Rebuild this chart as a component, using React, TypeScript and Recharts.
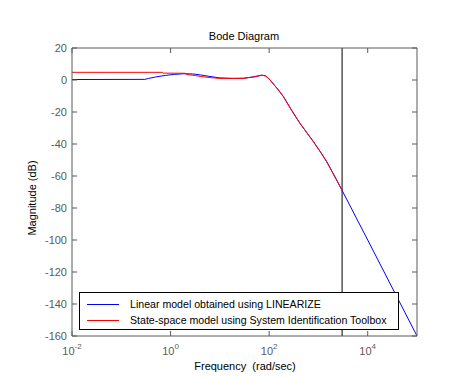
import { Legend, Line, LineChart, ReferenceLine, XAxis, YAxis } from "recharts";

// frequency (rad/sec) and magnitude (dB)
const linearizeFreq = [
  0.01, 0.3, 0.36, 0.5, 0.8, 1.2, 1.8, 2.8, 4, 6, 10, 18, 30, 45, 62, 72, 85, 105, 130, 155, 195, 280,
  420, 600, 790, 1100, 1470, 2340, 3020, 10000, 100000,
];
const linearizeMag = [
  0.3, 0.4, 1.0, 1.9, 2.9, 3.5, 3.9, 3.8, 3.2, 2.3, 1.3, 1.0, 1.1, 1.8, 2.7, 3.0, 2.5, 0, -3.5, -6.3, -10.4,
  -18.5, -27, -33.5, -38.5, -45, -51, -62.5, -69, -100, -160,
];

const sysidFreq = [
  0.01, 0.68, 0.7, 2.0, 2.1, 3.2, 4.0, 6.3, 10, 30, 40, 55, 70, 85, 105, 130, 155, 195, 280, 420, 600, 790,
  1100, 1470, 2340, 3020,
];
const sysidMag = [
  4.8, 4.8, 4.3, 4.2, 3.4, 2.8, 2.2, 1.5, 1.0, 1.0, 1.6, 2.1, 3.0, 2.6, 0, -3.6, -6.3, -10.4, -18.5, -27,
  -33.5, -38.5, -45, -51, -62.5, -69,
];

const nyquistFreq = 3020;
const xTicks = [0.01, 1, 100, 10000];
const yTicks = [-160, -140, -120, -100, -80, -60, -40, -20, 0, 20];

const linearizeData = linearizeFreq.map((w, i) => ({ w, db: linearizeMag[i] }));
const sysidData = sysidFreq.map((w, i) => ({ w, db: sysidMag[i] }));

const AXIS = "#5a5a5a";
const FONT = "'Liberation Sans', Arial, sans-serif";

function BottomTick({ x, y, payload }: any) {
  const exp = Math.round(Math.log10(payload.value));
  return (
    <g>
      <line x1={x} x2={x} y1={y} y2={y - 5} stroke={AXIS} />
      <text x={x} y={y + 19} textAnchor="middle" fill={AXIS} fontSize={11} fontFamily={FONT}>
        10
        <tspan dy={-6} fontSize={8}>
          {exp}
        </tspan>
      </text>
    </g>
  );
}

function TopTick({ x, y }: any) {
  return <line x1={x} x2={x} y1={y} y2={y + 5} stroke={AXIS} />;
}

function LeftTick({ x, y, payload }: any) {
  return (
    <g>
      <line x1={x} x2={x + 5} y1={y} y2={y} stroke={AXIS} />
      <text x={x - 5} y={y} dy={4} textAnchor="end" fill={AXIS} fontSize={11} fontFamily={FONT}>
        {payload.value}
      </text>
    </g>
  );
}

function RightTick({ x, y }: any) {
  return <line x1={x} x2={x - 5} y1={y} y2={y} stroke={AXIS} />;
}

function LegendBox({ payload }: any) {
  return (
    <div
      style={{
        border: "1px solid #000",
        background: "#fff",
        width: 320,
        height: 38,
        boxSizing: "border-box",
        padding: "3px 0 0 7px",
        fontFamily: FONT,
        fontSize: 10.6,
        color: "#000",
        whiteSpace: "nowrap",
      }}
    >
      {(payload ?? []).map((item: any) => (
        <div key={item.value} style={{ display: "flex", alignItems: "center", height: 16 }}>
          <span style={{ display: "inline-block", width: 32, height: 1, background: item.color, marginRight: 11 }} />
          <span>{item.value}</span>
        </div>
      ))}
    </div>
  );
}

export default function App() {
  return (
    <div style={{ position: "absolute", left: 0, top: 0, width: 461, height: 377, background: "#fff" }}>
      <LineChart width={461} height={377} margin={{ top: 47, right: 43, bottom: 21, left: 32 }}>
        <XAxis
          dataKey="w"
          type="number"
          scale="log"
          domain={[0.01, 100000]}
          ticks={xTicks}
          allowDataOverflow
          height={20}
          tickSize={0}
          tickMargin={0}
          tickLine={false}
          axisLine={{ stroke: AXIS }}
          tick={<BottomTick />}
        />
        <XAxis
          xAxisId="top"
          orientation="top"
          dataKey="w"
          type="number"
          scale="log"
          domain={[0.01, 100000]}
          ticks={xTicks}
          allowDataOverflow
          height={1}
          tickSize={0}
          tickMargin={0}
          tickLine={false}
          axisLine={{ stroke: AXIS }}
          tick={<TopTick />}
        />
        <YAxis
          type="number"
          domain={[-160, 20]}
          ticks={yTicks}
          allowDataOverflow
          width={40}
          tickSize={0}
          tickMargin={0}
          tickLine={false}
          axisLine={{ stroke: AXIS }}
          tick={<LeftTick />}
        />
        <YAxis
          yAxisId="right"
          orientation="right"
          type="number"
          domain={[-160, 20]}
          ticks={yTicks}
          allowDataOverflow
          width={1}
          tickSize={0}
          tickMargin={0}
          tickLine={false}
          axisLine={{ stroke: AXIS }}
          tick={<RightTick />}
        />
        <ReferenceLine x={nyquistFreq} stroke="#000" strokeWidth={1} />
        <Line
          data={linearizeData}
          dataKey="db"
          name="Linear model obtained using LINEARIZE"
          stroke="#0000ff"
          strokeWidth={1}
          dot={false}
          type="linear"
          isAnimationActive={false}
        />
        <Line
          data={sysidData}
          dataKey="db"
          name="State-space model using System Identification Toolbox"
          stroke="#ff0000"
          strokeWidth={1}
          dot={false}
          type="linear"
          isAnimationActive={false}
        />
        <Legend
          layout="vertical"
          align="center"
          verticalAlign="middle"
          wrapperStyle={{ left: 79, top: 292, width: 320 }}
          content={<LegendBox />}
        />
        <text x={244} y={40} textAnchor="middle" fontSize={11} fontFamily={FONT} fill="#000">
          Bode Diagram
        </text>
        <text
          x={245}
          y={370}
          textAnchor="middle"
          fontSize={11}
          fontFamily={FONT}
          fill="#000"
          style={{ whiteSpace: "pre" }}
        >
          {"Frequency  (rad/sec)"}
        </text>
        <text
          x={36}
          y={198}
          textAnchor="middle"
          fontSize={11}
          fontFamily={FONT}
          fill="#000"
          transform="rotate(-90 36 198)"
        >
          Magnitude (dB)
        </text>
      </LineChart>
    </div>
  );
}
